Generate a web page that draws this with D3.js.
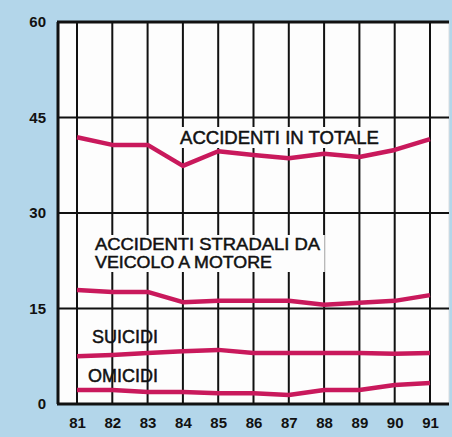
<!doctype html>
<html>
<head>
	<script src="https://d3js.org/d3.v7.min.js"></script>
	<style>
		body { margin: 0; background: #b3d6ea; }
		svg { display: block; }
		text { font-family: "Liberation Sans", Arial, sans-serif; }
	</style>
</head>
<body>
	<svg width="452" height="437"></svg>
	<script>

		var years = [81, 82, 83, 84, 85, 86, 87, 88, 89, 90, 91];
		var yTicks = [0, 15, 30, 45, 60];

		var totale   = [41.9, 40.7, 40.7, 37.4, 39.7, 39.1, 38.6, 39.3, 38.8, 39.9, 41.6];
		var stradali = [17.9, 17.6, 17.6, 16.0, 16.2, 16.2, 16.2, 15.6, 15.9, 16.2, 17.1];
		var suicidi  = [7.5, 7.7, 8.0, 8.3, 8.5, 8.0, 8.0, 8.0, 8.0, 7.9, 8.0];
		var omicidi  = [2.2, 2.2, 1.9, 1.9, 1.7, 1.7, 1.4, 2.2, 2.2, 3.0, 3.3];

		var series = [totale, stradali, suicidi, omicidi];

		var svg = d3.select("svg");
		var box = {left: 58, right: 449, top: 22, bottom: 404};

		var xScale = d3.scaleLinear().domain([81, 91]).range([77, 430]);
		var yScale = d3.scaleLinear().domain([0, 60]).range([box.bottom, box.top]);

		// plot background
		svg.append("rect")
			.attr("x", box.left).attr("y", box.top)
			.attr("width", box.right - box.left).attr("height", box.bottom - box.top)
			.attr("fill", "#fdfdfd")
			.attr("stroke", "#d8dde0").attr("stroke-width", 1);

		// grid
		svg.append("g").selectAll("line.v")
			.data(years).enter().append("line")
				.attr("x1", d => xScale(d)).attr("x2", d => xScale(d))
				.attr("y1", box.top).attr("y2", box.bottom)
				.attr("stroke", "#111").attr("stroke-width", 2);

		svg.append("g").selectAll("line.h")
			.data(yTicks.slice(1, 4)).enter().append("line")
				.attr("x1", box.left).attr("x2", box.right)
				.attr("y1", d => yScale(d)).attr("y2", d => yScale(d))
				.attr("stroke", "#111").attr("stroke-width", 2);

		// labels, the big ones on white blocks that break the grid
		var labels = [
			{t: ["ACCIDENTI IN TOTALE"], x: 180, y: 144, w: [199], pad: 3, fs: 19},
			{t: ["ACCIDENTI STRADALI DA", "VEICOLO A MOTORE"], x: 95, y: 250, w: [225, 177], pad: 4, fs: 17},
			{t: ["SUICIDI"], x: 92, y: 343, w: [66], pad: 0, fs: 19},
			{t: ["OMICIDI"], x: 88, y: 382, w: [70], pad: 0, fs: 19}
		];

		labels.forEach(function(l) {
			var g = svg.append("g");
			var bg = g.append("rect").attr("fill", "#fdfdfd");
			l.t.forEach(function(s, i) {
				g.append("text")
					.attr("font-size", l.fs)
					.attr("fill", "#111")
					.attr("stroke", "#111").attr("stroke-width", 0.5)
					.attr("x", l.x).attr("y", l.y + i * 18)
					.attr("textLength", l.w[i])
					.attr("lengthAdjust", "spacingAndGlyphs")
					.text(s);
			});
			if (l.pad > 0) {
				var b = g.node().getBBox();
				bg.attr("x", b.x - l.pad).attr("y", b.y)
					.attr("width", b.width + 2 * l.pad).attr("height", b.height);
			}
		});

		// lines
		var line = d3.line()
			.x((d, i) => xScale(years[i]))
			.y(d => yScale(d));

		svg.append("g").selectAll("path")
			.data(series).enter().append("path")
				.attr("d", line)
				.attr("fill", "none")
				.attr("stroke", "#c9195c")
				.attr("stroke-width", 4.5)
				.attr("stroke-linejoin", "round");

		// frame
		svg.append("line")
			.attr("x1", box.left - 1).attr("x2", box.right)
			.attr("y1", box.top).attr("y2", box.top)
			.attr("stroke", "#111").attr("stroke-width", 3);
		svg.append("line")
			.attr("x1", box.left).attr("x2", box.left)
			.attr("y1", box.top).attr("y2", box.bottom)
			.attr("stroke", "#111").attr("stroke-width", 3);
		svg.append("line")
			.attr("x1", box.left - 1).attr("x2", box.right)
			.attr("y1", box.bottom).attr("y2", box.bottom)
			.attr("stroke", "#111").attr("stroke-width", 3);

		// axes
		var yAxis = d3.axisLeft(yScale).tickValues(yTicks).tickSize(0).tickPadding(0);
		var yG = svg.append("g")
			.attr("transform", "translate(46,0)")
			.call(yAxis);
		yG.select(".domain").remove();
		yG.selectAll("text")
			.attr("font-family", "Liberation Sans, Arial, sans-serif")
			.attr("font-size", 15).attr("font-weight", "bold").attr("fill", "#111");

		var xAxis = d3.axisBottom(xScale).tickValues(years).tickSize(0).tickPadding(0);
		var xG = svg.append("g")
			.attr("transform", "translate(0,417)")
			.call(xAxis);
		xG.select(".domain").remove();
		xG.selectAll("text")
			.attr("font-family", "Liberation Sans, Arial, sans-serif")
			.attr("font-size", 15).attr("font-weight", "bold").attr("fill", "#111");

	</script>
</body>
</html>
